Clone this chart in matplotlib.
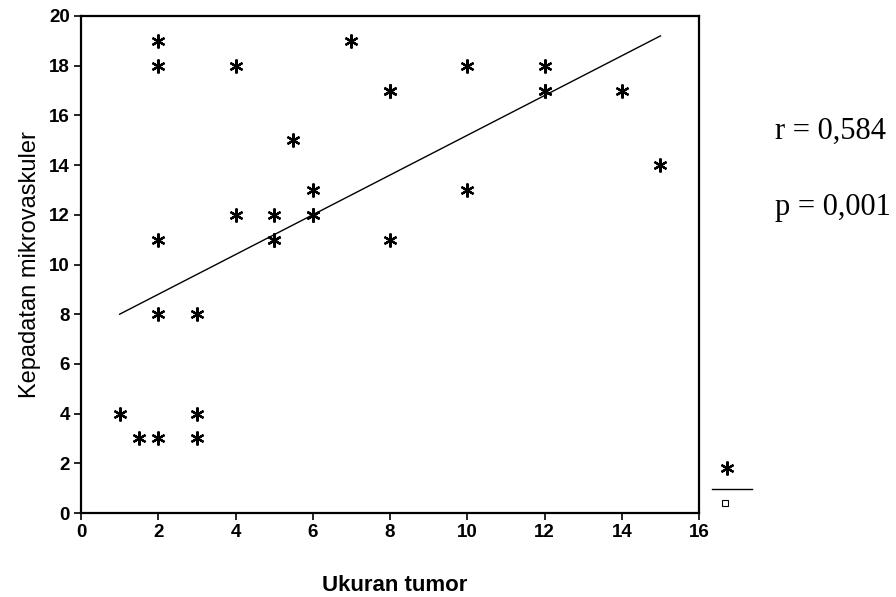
import numpy as np
import matplotlib.pyplot as plt

# data: tumour size vs microvessel density
ukuran = [1, 1.5, 2, 2, 2, 2, 2, 3, 3, 3, 4, 4, 5, 5, 5, 5.5, 6, 6, 6, 7,
          8, 8, 8, 10, 10, 12, 12, 12, 14, 15]
kepadatan = [4, 3, 3, 8, 11, 18, 19, 8, 4, 3, 18, 12, 12, 11, 11, 15, 13, 12, 12, 19,
             17, 17, 11, 18, 13, 18, 17, 17, 17, 14]

# fitted line, ends
fit_x = [1, 15]
fit_y = [8.0, 19.2]

xticks = np.arange(0, 17, 2)
yticks = np.arange(0, 21, 2)

plt.rcParams["font.family"] = ["Liberation Sans", "DejaVu Sans"]

fig = plt.figure(figsize=(8.96, 5.97), dpi=100)
ax = fig.add_axes([0.0904, 0.1407, 0.6898, 0.8325])

ax.plot(ukuran, kepadatan, linestyle="none", marker=(6, 2, 0),
        markersize=10, markeredgewidth=1.6, color="black")
ax.plot(fit_x, fit_y, color="black", linewidth=1.0)

ax.set_xlim(0, 16)
ax.set_ylim(0, 20)
ax.set_xticks(xticks)
ax.set_yticks(yticks)
ax.tick_params(direction="out", length=5, width=1.2, labelsize=13.5, pad=3)
for lab in ax.get_xticklabels() + ax.get_yticklabels():
    lab.set_fontweight("bold")
for s in ax.spines.values():
    s.set_linewidth(1.6)

ax.set_ylabel("Kepadatan mikrovaskuler", fontsize=17, labelpad=6)
fig.text(0.44, 0.02, "Ukuran tumor", fontsize=16, fontweight="bold",
         ha="center", va="center")

# statistics on the right
fig.text(0.865, 0.78, "r = 0,584", fontsize=22, family="Liberation Serif",
         va="center")
fig.text(0.865, 0.652, "p = 0,001", fontsize=22, family="Liberation Serif",
         va="center")

# small legend key outside the axes
fig.lines.append(plt.Line2D([0.811], [0.216], marker=(6, 2, 0), markersize=10,
                            markeredgewidth=1.6, color="black",
                            transform=fig.transFigure))
fig.lines.append(plt.Line2D([0.795, 0.839], [0.181, 0.181], color="black",
                            linewidth=1.0, transform=fig.transFigure))
fig.lines.append(plt.Line2D([0.809], [0.158], marker="s", markersize=4,
                            markerfacecolor="white", markeredgecolor="black",
                            markeredgewidth=0.8, linestyle="none",
                            transform=fig.transFigure))

fig.savefig("out.png", dpi=100)
